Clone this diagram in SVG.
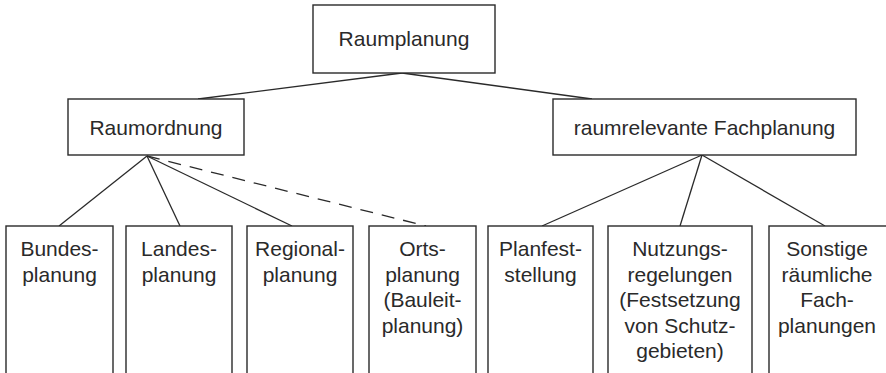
<svg xmlns="http://www.w3.org/2000/svg" width="886" height="373" viewBox="0 0 886 373">
<style>
.box{fill:#fff;stroke:#2a2a2a;stroke-width:1.4}
.t{font-family:"Liberation Sans",Arial,sans-serif;font-size:21px;fill:#2a2a2a;text-anchor:middle}
.c{stroke:#2a2a2a;stroke-width:1.3;fill:none}
.d{stroke-dasharray:13,9}
</style>
<rect width="886" height="373" fill="#fff"/>
<g id="connectors">
<line class="c" x1="402" y1="73" x2="198" y2="99"/>
<line class="c" x1="402" y1="73" x2="592" y2="99"/>
<line class="c" x1="147" y1="156" x2="59" y2="226"/>
<line class="c" x1="147" y1="156" x2="180" y2="226"/>
<line class="c" x1="147" y1="156" x2="292" y2="226"/>
<line class="c d" x1="147" y1="156" x2="426" y2="226"/>
<line class="c" x1="702" y1="155" x2="542" y2="226"/>
<line class="c" x1="702" y1="155" x2="680" y2="226"/>
<line class="c" x1="702" y1="155" x2="825" y2="226"/>
</g>
<g id="raumplanung">
<rect class="box" x="313" y="5" width="182" height="68"/>
<text class="t" x="404" y="46">Raumplanung</text>
</g>
<g id="raumordnung">
<rect class="box" x="68" y="99" width="176" height="56"/>
<text class="t" x="156" y="135">Raumordnung</text>
</g>
<g id="fachplanung">
<rect class="box" x="553" y="99" width="303" height="56"/>
<text class="t" x="704.5" y="135">raumrelevante Fachplanung</text>
</g>
<g id="bundes">
<rect class="box" x="6" y="226" width="107" height="160"/>
<text class="t" x="59.5" y="256">Bundes-</text>
<text class="t" x="59.5" y="281.5">planung</text>
</g>
<g id="landes">
<rect class="box" x="126" y="226" width="106" height="160"/>
<text class="t" x="179" y="256">Landes-</text>
<text class="t" x="179" y="281.5">planung</text>
</g>
<g id="regional">
<rect class="box" x="247" y="226" width="106" height="160"/>
<text class="t" x="300" y="256">Regional-</text>
<text class="t" x="300" y="281.5">planung</text>
</g>
<g id="orts">
<rect class="box" x="369" y="226" width="107" height="160"/>
<text class="t" x="422.5" y="256">Orts-</text>
<text class="t" x="422.5" y="281.5">planung</text>
<text class="t" x="422.5" y="307">(Bauleit-</text>
<text class="t" x="422.5" y="332.5">planung)</text>
</g>
<g id="planfest">
<rect class="box" x="488" y="226" width="105" height="160"/>
<text class="t" x="540.5" y="256">Planfest-</text>
<text class="t" x="540.5" y="281.5">stellung</text>
</g>
<g id="nutzung">
<rect class="box" x="608" y="226" width="144" height="160"/>
<text class="t" x="680" y="256">Nutzungs-</text>
<text class="t" x="680" y="281.5">regelungen</text>
<text class="t" x="680" y="307">(Festsetzung</text>
<text class="t" x="680" y="332.5">von Schutz-</text>
<text class="t" x="680" y="358">gebieten)</text>
</g>
<g id="sonstige">
<rect class="box" x="769" y="226" width="120" height="160"/>
<text class="t" x="827" y="256">Sonstige</text>
<text class="t" x="827" y="281.5">räumliche</text>
<text class="t" x="827" y="307">Fach-</text>
<text class="t" x="827" y="332.5">planungen</text>
</g>
</svg>
